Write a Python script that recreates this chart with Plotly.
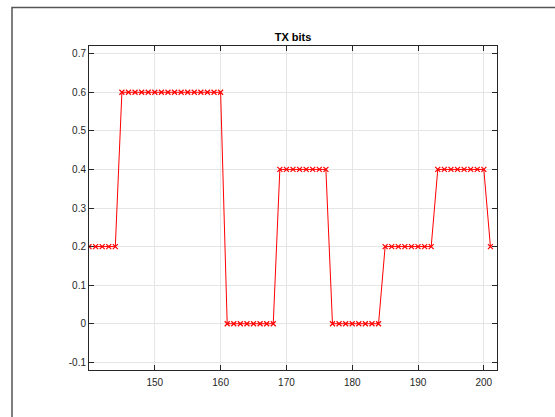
import plotly.graph_objects as go

x_vals = list(range(140, 202))
levels = [(140, 144, 0.2), (145, 160, 0.6), (161, 168, 0.0), (169, 176, 0.4),
          (177, 184, 0.0), (185, 192, 0.2), (193, 200, 0.4), (201, 201, 0.2)]
y_vals = []
for a, b, v in levels:
    y_vals += [v] * (b - a + 1)

x_ticks = [150, 160, 170, 180, 190, 200]
y_ticks = [-0.1, 0, 0.1, 0.2, 0.3, 0.4, 0.5, 0.6, 0.7]
y_labels = ["-0.1", "0", "0.1", "0.2", "0.3", "0.4", "0.5", "0.6", "0.7"]

W, H = 555, 417
L, R, T, B = 89, 58, 46, 47
pw, ph = W - L - R, H - T - B

fig = go.Figure(go.Scatter(
    x=x_vals, y=y_vals, mode="lines+markers",
    line=dict(color="#ff0000", width=1),
    marker=dict(symbol="x-thin", size=5, color="#ff0000",
                line=dict(color="#ff0000", width=1.2)),
))

axis_common = dict(
    showline=True, linecolor="#262626", linewidth=1, mirror="ticks",
    ticks="inside", ticklen=5, tickcolor="#262626", tickwidth=1,
    showgrid=True, gridcolor="#e5e5e5", gridwidth=1, zeroline=False,
    tickfont=dict(family="Liberation Sans, Arial", size=10, color="#262626"),
)
fig.update_xaxes(range=[140, 202], tickvals=x_ticks, ticklabelstandoff=3, **axis_common)
fig.update_yaxes(range=[-0.12, 0.72], tickvals=y_ticks, ticktext=y_labels, **axis_common)

fig.add_shape(type="rect", xref="paper", yref="paper",
              x0=(12 - L) / pw, x1=(W + 10 - L) / pw,
              y0=(H - B - (H + 10)) / ph, y1=(H - B - 7.5) / ph,
              line=dict(color="#555555", width=1.5), layer="below")

fig.update_layout(
    width=W, height=H, margin=dict(l=L, r=R, t=T, b=B),
    plot_bgcolor="white", paper_bgcolor="white", showlegend=False,
    title=dict(text="<b>TX bits</b>", x=(L + pw / 2) / W, xanchor="center",
               y=1 - 37 / H, yanchor="middle",
               font=dict(family="Liberation Sans, Arial", size=11, color="#000000")),
)

fig.write_html("out.html", config={"displayModeBar": False},
               post_script="document.body.style.margin='0';")
